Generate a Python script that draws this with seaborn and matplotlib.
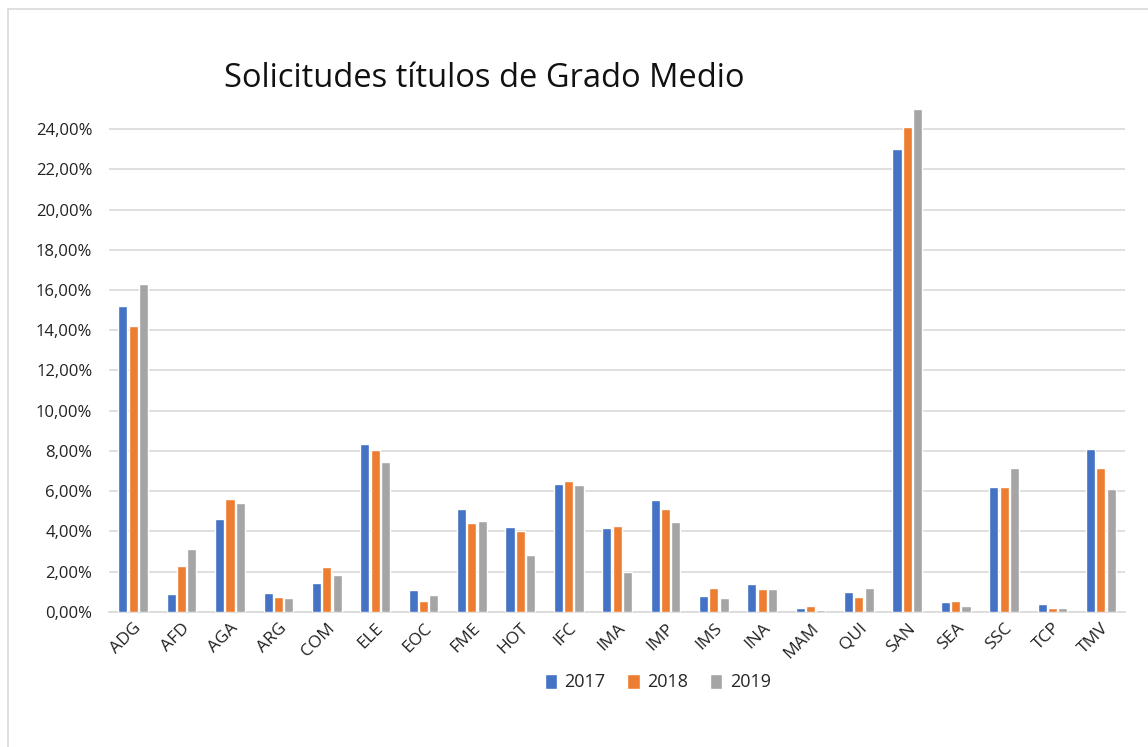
import pandas as pd
import numpy as np
import matplotlib.pyplot as plt
import seaborn as sns
from matplotlib.ticker import FuncFormatter
from matplotlib.patches import Rectangle

# data (percent)
familias = ["ADG", "AFD", "AGA", "ARG", "COM", "ELE", "EOC", "FME", "HOT", "IFC", "IMA",
            "IMP", "IMS", "INA", "MAM", "QUI", "SAN", "SEA", "SSC", "TCP", "TMV"]
v2017 = [15.2, 0.9, 4.6, 0.95, 1.45, 8.35, 1.1, 5.1, 4.2, 6.35, 4.15,
         5.55, 0.8, 1.4, 0.2, 1.0, 23.0, 0.5, 6.2, 0.4, 8.1]
v2018 = [14.2, 2.3, 5.6, 0.75, 2.25, 8.05, 0.55, 4.4, 4.0, 6.5, 4.25,
         5.1, 1.2, 1.15, 0.3, 0.75, 24.1, 0.55, 6.2, 0.2, 7.15]
v2019 = [16.3, 3.1, 5.4, 0.7, 1.85, 7.45, 0.85, 4.5, 2.8, 6.3, 2.0,
         4.45, 0.7, 1.15, 0.1, 1.2, 25.0, 0.3, 7.15, 0.2, 6.1]
years = ["2017", "2018", "2019"]
colores = ["#4472C4", "#ED7D31", "#A5A5A5"]

df = pd.DataFrame({"familia": familias * 3,
                   "anio": np.repeat(years, len(familias)),
                   "valor": v2017 + v2018 + v2019})

sns.set_style("white")
plt.rcParams['font.family'] = ['Open Sans', 'DejaVu Sans']

fig = plt.figure(figsize=(11.48, 7.47), dpi=100)
ax = fig.add_axes([0.095, 0.181, 0.885, 0.673])

sns.barplot(data=df, x="familia", y="valor", hue="anio", palette=colores,
            width=0.64, gap=0.12, ax=ax, zorder=3, saturation=1)

ax.set_ylim(0, 25)
ax.set_yticks(np.arange(0, 25, 2))
ax.yaxis.set_major_formatter(FuncFormatter(lambda v, p: f"{v:.2f}".replace(".", ",") + "%"))
ax.grid(axis="y", color="#D9D9D9", linewidth=1.2, zorder=0)
for s in ["top", "right", "left"]:
    ax.spines[s].set_visible(False)
ax.spines["bottom"].set_color("#D9D9D9")
ax.spines["bottom"].set_linewidth(1.2)
ax.tick_params(axis="both", length=0, labelsize=12, colors="#222222")
ax.tick_params(axis="y", pad=12)
ax.tick_params(axis="x", labelsize=12.5, pad=6)
plt.setp(ax.get_xticklabels(), rotation=45, ha="right", rotation_mode="anchor")
ax.set_xlabel("")
ax.set_ylabel("")

ax.legend(loc="upper center", bbox_to_anchor=(0.54, -0.09), ncol=3, frameon=False,
          fontsize=13, handlelength=0.7, handleheight=0.9, columnspacing=1.2, handletextpad=0.4)

fig.text(0.195, 0.895, "Solicitudes títulos de Grado Medio", fontsize=23.5, color="#111111", va="center")

# outer chart border
fig.patches.append(Rectangle((0.007, -0.01), 1.0, 0.998, transform=fig.transFigure,
                             fill=False, edgecolor="#D9D9D9", linewidth=1.2))

fig.savefig("out.png", dpi=100)
